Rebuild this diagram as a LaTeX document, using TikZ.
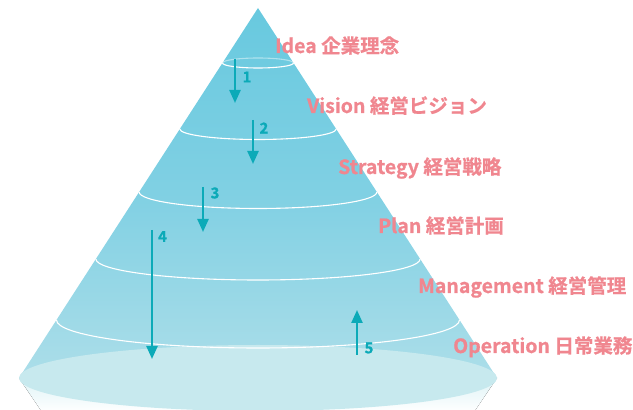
\documentclass[tikz,border=0pt]{standalone}
\usepackage{fontspec}
\newfontfamily\jpb{Noto Sans CJK JP Bold}[RawFeature={embolden=0.8}]
\usetikzlibrary{arrows.meta}
\definecolor{coneTop}{RGB}{104,201,223}
\definecolor{coneMid}{RGB}{128,208,227}
\definecolor{coneBot}{RGB}{172,222,233}
\definecolor{baseCol}{RGB}{199,233,238}
\definecolor{fadeCol}{RGB}{222,243,246}
\definecolor{arrowCol}{RGB}{12,170,184}
\definecolor{labelCol}{RGB}{240,134,143}
\tikzset{
  ring/.style={white, line width=1.1pt},
  flow/.style={arrowCol, line width=2.4pt, -{Triangle[length=13pt,width=11pt]}},
  numlbl/.style={text=arrowCol, font=\jpb\fontsize{15}{15}\selectfont, inner sep=0pt},
  lvl/.style={text=labelCol, font=\jpb\fontsize{19.5}{19.5}\selectfont, inner sep=0pt, anchor=base west},
}
\begin{document}
\begin{tikzpicture}[x=1pt,y=1pt]
\useasboundingbox (0,0) rectangle (633,410);
% fade below base
\fill[top color=fadeCol, bottom color=white] (19,32) -- (42,-2) -- (474,-2) -- (497,32) -- cycle;
% cone body
\shade[top color=coneTop, bottom color=coneBot, middle color=coneMid] (258,402) -- (19,32) -- (497,32) -- cycle;
% base ellipse
\fill[baseCol] (258,32) ellipse [x radius=239, y radius=33];
% rings
\draw[ring, opacity=0.45] (222.5,347) arc[start angle=180, end angle=0, x radius=35.5, y radius=5];
\draw[ring] (222.5,347) arc[start angle=180, end angle=360, x radius=35.5, y radius=5];
\draw[ring] (179.8,281) arc[start angle=180, end angle=360, x radius=78.2, y radius=10.5];
\draw[ring] (139.1,218) arc[start angle=180, end angle=360, x radius=118.9, y radius=16.5];
\draw[ring] (95.9,151) arc[start angle=180, end angle=360, x radius=162.1, y radius=21];
\draw[ring] (56.5,90) arc[start angle=180, end angle=360, x radius=201.5, y radius=28];
% arrows
\coordinate (a1s) at (235,351); \coordinate (a1e) at (235,307);
\coordinate (a2s) at (253,290); \coordinate (a2e) at (253,246);
\coordinate (a3s) at (203,223); \coordinate (a3e) at (203,178);
\coordinate (a4s) at (152,180); \coordinate (a4e) at (152,51);
\coordinate (a5s) at (357,55);  \coordinate (a5e) at (357,100);
\draw[flow] (a1s) -- (a1e);
\draw[flow] (a2s) -- (a2e);
\draw[flow] (a3s) -- (a3e);
\draw[flow] (a4s) -- (a4e);
\draw[flow] (a5s) -- (a5e);
\node[numlbl] (n1) at (247,333) {1};
\node[numlbl] (n2) at (264,282) {2};
\node[numlbl] (n3) at (215,217) {3};
\node[numlbl] (n4) at (162.5,173.5) {4};
\node[numlbl] (n5) at (369,62) {5};
% level labels
\node[lvl] (l1) at (275,357) {Idea 企業理念};
\node[lvl] (l2) at (307,297) {Vision 経営ビジョン};
\node[lvl] (l3) at (338,236) {Strategy 経営戦略};
\node[lvl] (l4) at (378,177) {Plan 経営計画};
\node[lvl] (l5) at (418,117) {Management 経営管理};
\node[lvl] (l6) at (453,57) {Operation 日常業務};
\end{tikzpicture}
\end{document}
